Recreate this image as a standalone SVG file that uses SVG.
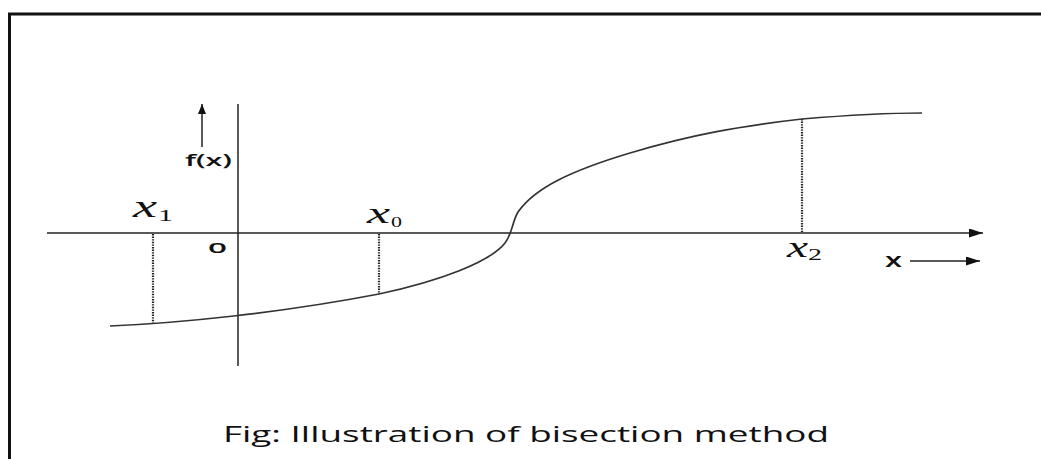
<svg xmlns="http://www.w3.org/2000/svg" width="1041" height="459" viewBox="0 0 1041 459">
<style>
.ax{stroke:#222;stroke-width:1.5;fill:none}
.cv{stroke:#333;stroke-width:1.7;fill:none}
.dt{stroke:#222;stroke-width:2.2;stroke-dasharray:1.4 1.2;fill:none}
.lb{font-family:'Open Sans','DejaVu Sans',sans-serif;font-weight:600;fill:#111}
.mx{font-family:'Liberation Serif','DejaVu Serif',serif;font-style:italic;fill:#111}
.sb{font-family:'Liberation Serif','DejaVu Serif',serif;fill:#111}
</style>
<defs>
<marker id="ah" markerWidth="10" markerHeight="8" refX="10" refY="4" orient="auto" markerUnits="userSpaceOnUse">
<path d="M0,0 L10,4 L0,8 Z" fill="#111"/>
</marker>
<marker id="ah2" markerWidth="14" markerHeight="9" refX="14" refY="4.5" orient="auto" markerUnits="userSpaceOnUse">
<path d="M0,0 L14,4.5 L0,9 Z" fill="#111"/>
</marker>
</defs>
<rect x="9.5" y="14" width="1100" height="500" fill="#fff" stroke="#111" stroke-width="3"/>
<g id="connectors">
<line id="x-axis" class="ax" x1="47" y1="233" x2="983" y2="233" marker-end="url(#ah2)"/>
<line id="y-axis" class="ax" x1="238" y1="104" x2="238" y2="366"/>
<line id="fx-arrow" class="ax" x1="202" y1="147" x2="202" y2="104" marker-end="url(#ah)"/>
<line id="x-arrow" class="ax" x1="910" y1="261" x2="980" y2="261" marker-end="url(#ah2)"/>
<line id="d1" class="dt" x1="153" y1="234" x2="153" y2="323"/>
<line id="d0" class="dt" x1="379" y1="234" x2="379" y2="294"/>
<line id="d2" class="dt" x1="802" y1="119" x2="802" y2="232"/>
<path id="curve" class="cv" d="M110,326 C180,323 280,313 379,294 C440,281 490,262 505,243 C513,232 512,222 518,212 C535,188 570,171 630,153 C690,135 740,126 802,119 C850,115 890,113 922,113"/>
</g>
<g id="label-fx"><text class="lb" x="185" y="166" font-size="16" textLength="47" lengthAdjust="spacingAndGlyphs">f(x)</text></g>
<g id="label-origin"><text class="lb" x="208" y="253" font-size="15" textLength="19" lengthAdjust="spacingAndGlyphs">0</text></g>
<g id="label-x"><text class="lb" x="885" y="267" font-size="19" textLength="17" lengthAdjust="spacingAndGlyphs">x</text></g>
<g id="label-x1"><text class="mx" x="133" y="217" font-size="31" textLength="24" lengthAdjust="spacingAndGlyphs">x</text><text class="sb" x="158" y="221" font-size="16" textLength="15" lengthAdjust="spacingAndGlyphs">1</text></g>
<g id="label-x0"><text class="mx" x="367" y="223" font-size="29" textLength="23" lengthAdjust="spacingAndGlyphs">x</text><text class="sb" x="391" y="227" font-size="15" textLength="11" lengthAdjust="spacingAndGlyphs">0</text></g>
<g id="label-x2"><text class="mx" x="787" y="257" font-size="30" textLength="21" lengthAdjust="spacingAndGlyphs">x</text><text class="sb" x="808" y="260" font-size="16" textLength="14" lengthAdjust="spacingAndGlyphs">2</text></g>
<g id="caption"><text x="223" y="442" font-family="'Open Sans','Liberation Sans',sans-serif" font-size="21" fill="#111" textLength="606" lengthAdjust="spacingAndGlyphs">Fig: Illustration of bisection method</text></g>
</svg>
